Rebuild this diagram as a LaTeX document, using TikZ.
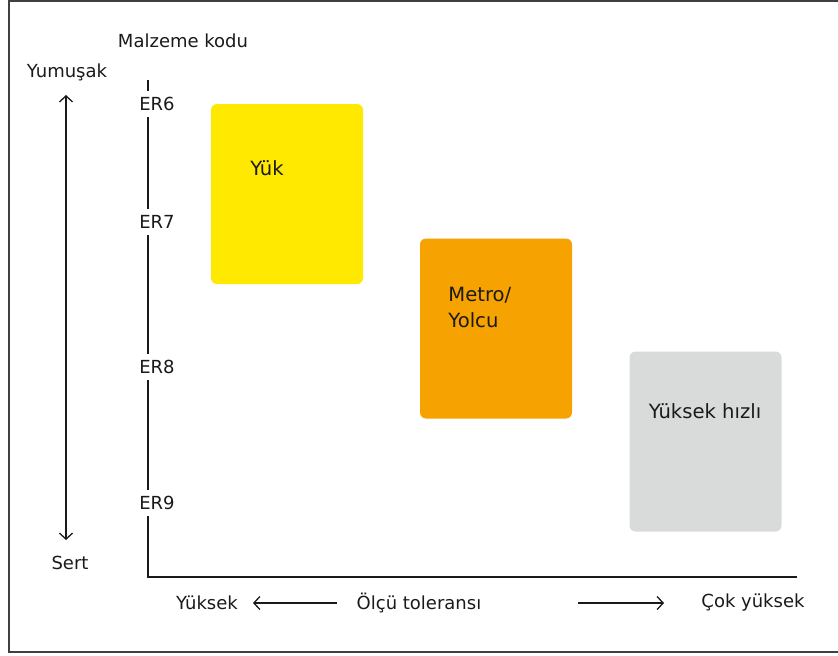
\documentclass[tikz,border=0pt]{standalone}
\usepackage{fontspec}
\setmainfont{DejaVu Sans}
\usetikzlibrary{arrows.meta}

\definecolor{yukyellow}{HTML}{FFE900}
\definecolor{metroorange}{HTML}{F6A200}
\definecolor{hizligrey}{HTML}{D9DADA}
\definecolor{ink}{HTML}{1A1A1A}

\tikzset{
    lbl/.style={font=\fontsize{9}{10}\selectfont, text=ink, inner sep=0pt},
    boxlbl/.style={font=\fontsize{9.8}{13}\selectfont, text=ink, inner sep=0pt, align=left},
    band/.style={rounded corners=3pt, inner sep=0pt, minimum width=76pt, minimum height=90pt},
    tick/.style={lbl, fill=white, inner xsep=0.5pt, inner ysep=3pt},
    axis/.style={line width=0.9pt, ink},
    thinarrow/.style={line width=0.65pt, ink, -{Straight Barb[length=3pt,width=6.5pt]}},
}

\begin{document}
\begin{tikzpicture}[x=0.5pt,y=-0.5pt]
    \useasboundingbox (0,0) rectangle (838,655);
    \draw [line width=1.1pt, black!75] (9,1) rectangle (850,652);

    % axes
    \coordinate (o)   at (148,577);
    \coordinate (top) at (148,80);
    \coordinate (rgt) at (797,577);
    \draw [axis] (top) -- (o) -- (rgt);

    \node [lbl] (kodu) at (183,41) {Malzeme kodu};

    \node [tick] (er6) at (157,104) {ER6};
    \node [tick] (er7) at (157,222) {ER7};
    \node [tick] (er8) at (157,367) {ER8};
    \node [tick] (er9) at (157,503) {ER9};

    % soft / hard
    \node [lbl] (yumusak) at (67,72)  {Yumuşak};
    \node [lbl] (sert)    at (70,563) {Sert};
    \coordinate (ust) at (66,95);
    \coordinate (alt) at (66,540);
    \draw [thinarrow, {Straight Barb[length=3pt,width=6.5pt]}-{Straight Barb[length=3pt,width=6.5pt]}] (ust) -- (alt);

    % bands
    \node [band, fill=yukyellow]   (yuk)   at (287,194)   {};
    \node [band, fill=metroorange] (metro) at (496,328.5) {};
    \node [band, fill=hizligrey]   (hizli) at (705.5,441.5) {};

    \node [boxlbl] (yuklbl)   at (267,168) {Yük};
    \node [boxlbl, anchor=north west] (metrolbl) at (448,287) {Metro/\\Yolcu};
    \node [boxlbl] (hizlilbl) at (705,411) {Yüksek hızlı};

    % tolerance
    \node [lbl] (yuksek) at (207,603) {Yüksek};
    \node [lbl] (olcu)   at (419,603) {Ölçü toleransı};
    \node [lbl] (cok)    at (753,603) {Çok yüksek};
    \coordinate (la) at (337,603);
    \coordinate (lb) at (253,603);
    \coordinate (ra) at (578,603);
    \coordinate (rb) at (664,603);
    \draw [thinarrow] (la) -- (lb);
    \draw [thinarrow] (ra) -- (rb);
\end{tikzpicture}
\end{document}
